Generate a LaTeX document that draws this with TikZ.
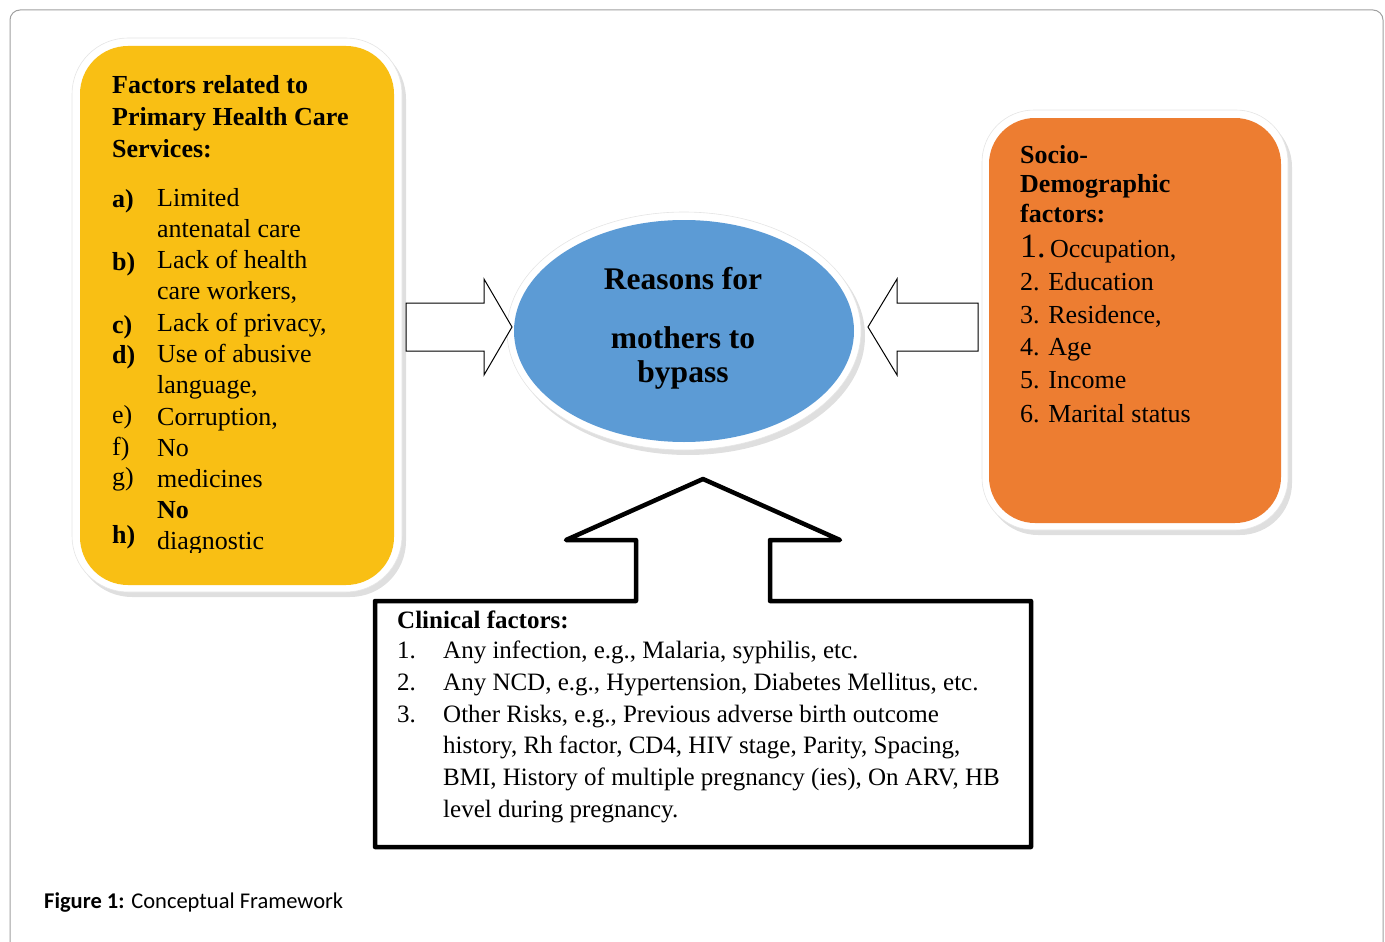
\documentclass[tikz,border=0pt]{standalone}
\usepackage{fontspec}
\setmainfont{Liberation Serif}
\newfontfamily\capfont{Carlito}
\usetikzlibrary{shadows}
\definecolor{boxyellow}{RGB}{249,191,20}
\definecolor{boxorange}{RGB}{237,125,49}
\definecolor{ellblue}{RGB}{92,155,213}
\definecolor{framegray}{RGB}{160,160,160}
\begin{document}
\begin{tikzpicture}[x=1pt,y=-1pt,
  txt/.style={anchor=base west, inner sep=0pt, font=\fontsize{26}{31}\selectfont},
  hdr/.style={txt, font=\fontsize{26}{31}\selectfont\bfseries},
  clin/.style={anchor=base west, inner sep=0pt, font=\fontsize{25}{31}\selectfont},
  ctr/.style={anchor=base, inner sep=0pt, font=\fontsize{31.5}{34}\selectfont\bfseries},
  whiteframe/.style={fill=white, draw=gray!20, line width=0.6pt,
    drop shadow={shadow xshift=4pt, shadow yshift=-5pt, opacity=0.28, fill=black!45}},
  blockarrow/.style={draw=black, line width=1pt, fill=white, line join=miter}]
\useasboundingbox (0,0) rectangle (1385,942);
\draw[framegray, line width=1pt, rounded corners=10pt] (10,970) -- (10,10) -- (1383,10) -- (1383,970);

% yellow box
\draw[whiteframe, rounded corners=56pt] (72,38) rectangle (402,592);
\fill[boxyellow, rounded corners=48pt] (80,46) rectangle (394,585);
\node[hdr] (y1) at (112,93) {Factors related to};
\node[hdr] (y2) at (112,125) {Primary Health Care};
\node[hdr] (y3) at (112,157) {Services:};
\node[hdr] (la) at (112,207) {a)};
\node[hdr] (lb) at (112,270) {b)};
\node[hdr] (lc) at (112,333) {c)};
\node[hdr] (ld) at (112,363) {d)};
\node[txt] (le) at (112,423) {e)};
\node[txt] (lf) at (112,455) {f)};
\node[txt] (lg) at (112,485) {g)};
\node[hdr] (lh) at (112,543) {h)};
\node[txt] (t1) at (157,206) {Limited};
\node[txt] (t2) at (157,237) {antenatal care};
\node[txt] (t3) at (157,268) {Lack of health};
\node[txt] (t4) at (157,299) {care workers,};
\node[txt] (t5) at (157,331) {Lack of privacy,};
\node[txt] (t6) at (157,362) {Use of abusive};
\node[txt] (t7) at (157,393) {language,};
\node[txt] (t8) at (157,425) {Corruption,};
\node[txt] (t9) at (157,456) {No};
\node[txt] (t10) at (157,487) {medicines};
\node[hdr] (t11) at (157,518) {No};
\begin{scope}
\clip (80,300) rectangle (394,552);
\node[txt] (t12) at (157,549) {diagnostic};
\end{scope}

% orange box
\draw[whiteframe, rounded corners=52pt] (982,110) rectangle (1288,530);
\fill[boxorange, rounded corners=46pt] (989,118) rectangle (1281,523);
\node[hdr] (o1) at (1020,163) {Socio-};
\node[hdr] (o2) at (1020,192) {Demographic};
\node[hdr] (o3) at (1020,222) {factors:};
\node[txt] (o4) at (1020,257) {{\fontsize{34}{34}\selectfont 1.}\,Occupation,};
\node[txt] (o5) at (1020,290) {2. Education};
\node[txt] (o6) at (1020,323) {3. Residence,};
\node[txt] (o7) at (1020,355) {4. Age};
\node[txt] (o8) at (1020,388) {5. Income};
\node[txt] (o9) at (1020,422) {6. Marital status};

% central ellipse
\draw[whiteframe] (684,331) ellipse [x radius=177, y radius=119];
\fill[ellblue] (684,331) ellipse [x radius=170, y radius=111];
\node[ctr] (c1) at (683,289) {Reasons for};
\node[ctr] (c2) at (683,348) {mothers to};
\node[ctr] (c3) at (683,382) {bypass};

% side block arrows
\draw[blockarrow] (406,303) -- (484,303) -- (484,279) -- (512,327) -- (484,375) -- (484,351) -- (406,351) -- cycle;
\draw[blockarrow] (978,303) -- (897,303) -- (897,279) -- (868,327) -- (897,375) -- (897,351) -- (978,351) -- cycle;

% clinical box with up arrow
\draw[line width=4.5pt, line join=round] (375,601) -- (636,601) -- (636,540) -- (566,540) -- (703,479) -- (840,540) -- (770,540) -- (770,601) -- (1031,601) -- (1031,847) -- (375,847) -- cycle;
\node[clin, font=\fontsize{25}{31}\selectfont\bfseries] (k0) at (397,628) {Clinical factors:};
\node[clin] (n1) at (397,658) {1.};
\node[clin] (n2) at (397,690) {2.};
\node[clin] (n3) at (397,722) {3.};
\node[clin] (k1) at (443,658) {Any infection, e.g., Malaria, syphilis, etc.};
\node[clin] (k2) at (443,690) {Any NCD, e.g., Hypertension, Diabetes Mellitus, etc.};
\node[clin] (k3) at (443,722) {Other Risks, e.g., Previous adverse birth outcome};
\node[clin] (k4) at (443,753) {history, Rh factor, CD4, HIV stage, Parity, Spacing,};
\node[clin] (k5) at (443,785) {BMI, History of multiple pregnancy (ies), On ARV, HB};
\node[clin] (k6) at (443,817) {level during pregnancy.};

% caption
\node[anchor=base west, inner sep=0pt, font=\capfont\fontsize{22.5}{26}\selectfont] (cap) at (44,908) {\textbf{Figure 1:} Conceptual Framework};
\end{tikzpicture}
\end{document}
